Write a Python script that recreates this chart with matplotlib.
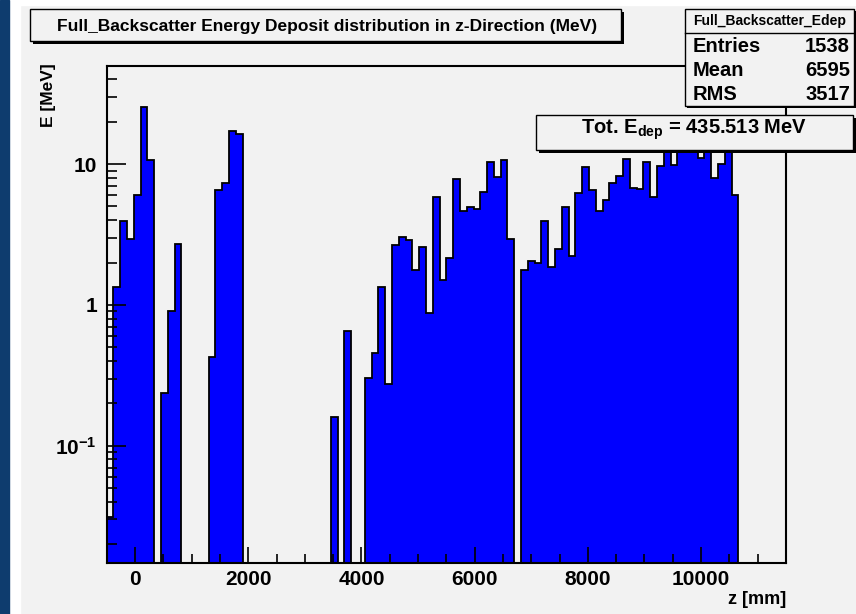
import numpy as np
import matplotlib
matplotlib.use('Agg')
import matplotlib.pyplot as plt
from matplotlib.patches import Rectangle
from matplotlib.ticker import FixedLocator, MultipleLocator, NullFormatter, LogLocator

plt.rcParams['font.family'] = ['Liberation Sans', 'DejaVu Sans']
plt.rcParams['font.weight'] = 'bold'
plt.rcParams['mathtext.fontset'] = 'custom'
plt.rcParams['mathtext.rm'] = 'Liberation Sans:bold'
plt.rcParams['mathtext.bf'] = 'Liberation Sans:bold'
plt.rcParams['mathtext.it'] = 'Liberation Sans:bold'

# histogram: 100 bins of 120 mm between -500 and 11500 mm
z_min = -500
z_max = 11500
n_bins = 100
edep_mev = [
    0.031, 1.33, 3.92, 2.93, 6.03, 25.5, 10.7, 0, 0.238, 0.90,
    2.72, 0, 0, 0, 0, 0.43, 6.54, 7.33, 17.3, 16.3,
    0, 0, 0, 0, 0, 0, 0, 0, 0, 0,
    0, 0, 0, 0.159, 0, 0.655, 0, 0, 0.303, 0.452,
    1.33, 0.274, 2.65, 3.05, 2.88, 1.77, 2.56, 0.87, 5.86, 1.50,
    2.15, 7.82, 4.66, 4.95, 4.82, 6.36, 10.3, 8.04, 10.7, 2.95,
    0, 1.77, 2.04, 1.99, 3.92, 1.87, 2.49, 4.98, 2.22, 6.19,
    9.47, 6.54, 4.66, 5.55, 7.36, 8.22, 10.9, 6.79, 6.61, 10.3,
    5.86, 9.68, 12.4, 9.79, 14.2, 13.1, 15.0, 11.0, 14.3, 7.91,
    10.0, 13.2, 6.03, 0, 0, 0, 0, 0, 0, 0,
]

hist_name = 'Full_Backscatter_Edep'
title = 'Full_Backscatter Energy Deposit distribution in z-Direction (MeV)'
stat_names = ['Entries', 'Mean', 'RMS']
stat_values = ['1538', '6595', '3517']
tot_text = r'Tot. E$_{\mathbf{dep}}$ = 435.513 MeV'

y_ticks = [0.1, 1, 10]
y_ticklabels = [r'$\mathbf{10^{-1}}$', '1', '10']
x_ticks = [0, 2000, 4000, 6000, 8000, 10000]

W, H = 856, 614
bg = '#f2f2f2'

def fx(x):
    return x / W

def fy(y):
    return 1 - y / H

fig = plt.figure(figsize=(W / 100, H / 100), dpi=100)
fig.set_facecolor(bg)

# window border
fig.add_artist(Rectangle((0, 0), fx(20), 1, transform=fig.transFigure, color='white', zorder=0.1))
fig.add_artist(Rectangle((0, fy(5)), 1, 5 / H, transform=fig.transFigure, color='white', zorder=0.1))
fig.add_artist(Rectangle((0, 0), fx(9), 1, transform=fig.transFigure, color='#0e3c6e', zorder=0.2))

left, right, top, bottom = 106.7, 786, 66, 563
ax = fig.add_axes([fx(left), fy(bottom), fx(right - left), (bottom - top) / H])
ax.set_facecolor(bg)

edges = np.linspace(z_min, z_max, n_bins + 1)
vals = np.array(edep_mev, dtype=float)
vals = np.where(vals > 0, vals, 1e-4)
ax.stairs(vals, edges, baseline=1e-4, fill=True, color='#0000ff', zorder=1.0)
ax.stairs(vals, edges, baseline=1e-4, color='black', lw=1.3, zorder=1.2)

ax.set_yscale('log')
ax.set_xlim(z_min, z_max)
ax.set_ylim(0.0147, 49.7)
ax.set_axisbelow(False)

ax.xaxis.set_major_locator(FixedLocator(x_ticks))
ax.xaxis.set_minor_locator(MultipleLocator(500))
ax.yaxis.set_major_locator(FixedLocator(y_ticks))
ax.yaxis.set_minor_locator(LogLocator(base=10, subs=range(2, 10)))
ax.yaxis.set_minor_formatter(NullFormatter())
ax.set_yticklabels(y_ticklabels)
ax.set_xticklabels([str(t) for t in x_ticks])

ax.tick_params(axis='x', which='major', direction='in', length=11.5, width=1.2, pad=5,
               labelsize=15, top=False)
ax.tick_params(axis='x', which='minor', direction='in', length=6.5, width=1.2, top=False)
ax.tick_params(axis='y', which='major', direction='in', length=13.5, width=1.2, pad=7,
               labelsize=15, right=False)
ax.tick_params(axis='y', which='minor', direction='in', length=7.5, width=1.2, right=False)
for s in ax.spines.values():
    s.set_linewidth(1.5)

fig.text(fx(48), fy(63), 'E [MeV]', rotation=90, ha='center', va='top', fontsize=12.5, fontweight='bold')
fig.text(fx(786), fy(600), 'z [mm]', ha='right', va='center', fontsize=13, fontweight='bold')

def pave(x0, y0, x1, y1, shadow=3, z=5):
    if shadow:
        fig.add_artist(Rectangle((fx(x0 + shadow), fy(y1 + shadow)), fx(x1 - x0), (y1 - y0) / H,
                                 transform=fig.transFigure, facecolor='black', edgecolor='none', zorder=z))
    fig.add_artist(Rectangle((fx(x0), fy(y1)), fx(x1 - x0), (y1 - y0) / H,
                             transform=fig.transFigure, facecolor=bg, edgecolor='black', lw=1.0, zorder=z + 0.1))

# title box
pave(30, 9, 621, 41)
fig.text(fx(327), fy(26), title, ha='center', va='center', fontsize=12.5, fontweight='bold', zorder=6)

# stats box
pave(685, 9, 854, 106, shadow=2)
fig.add_artist(plt.Line2D([fx(685), fx(854)], [fy(33), fy(33)], transform=fig.transFigure, color='black', lw=1.0, zorder=6))
fig.text(fx(770), fy(21), hist_name, ha='center', va='center', fontsize=10, fontweight='bold', zorder=6)
for k, (n, v) in enumerate(zip(stat_names, stat_values)):
    yy = 47 + 24 * k
    fig.text(fx(693), fy(yy), n, ha='left', va='center', fontsize=14.5, fontweight='bold', zorder=6)
    fig.text(fx(850), fy(yy), v, ha='right', va='center', fontsize=14.5, fontweight='bold', zorder=6)

# total energy box
pave(536, 115, 853, 150)
fig.text(fx(694), fy(130), tot_text, ha='center', va='center', fontsize=14.5, fontweight='bold', zorder=6)

fig.savefig('out.png', dpi=100, facecolor=bg)
